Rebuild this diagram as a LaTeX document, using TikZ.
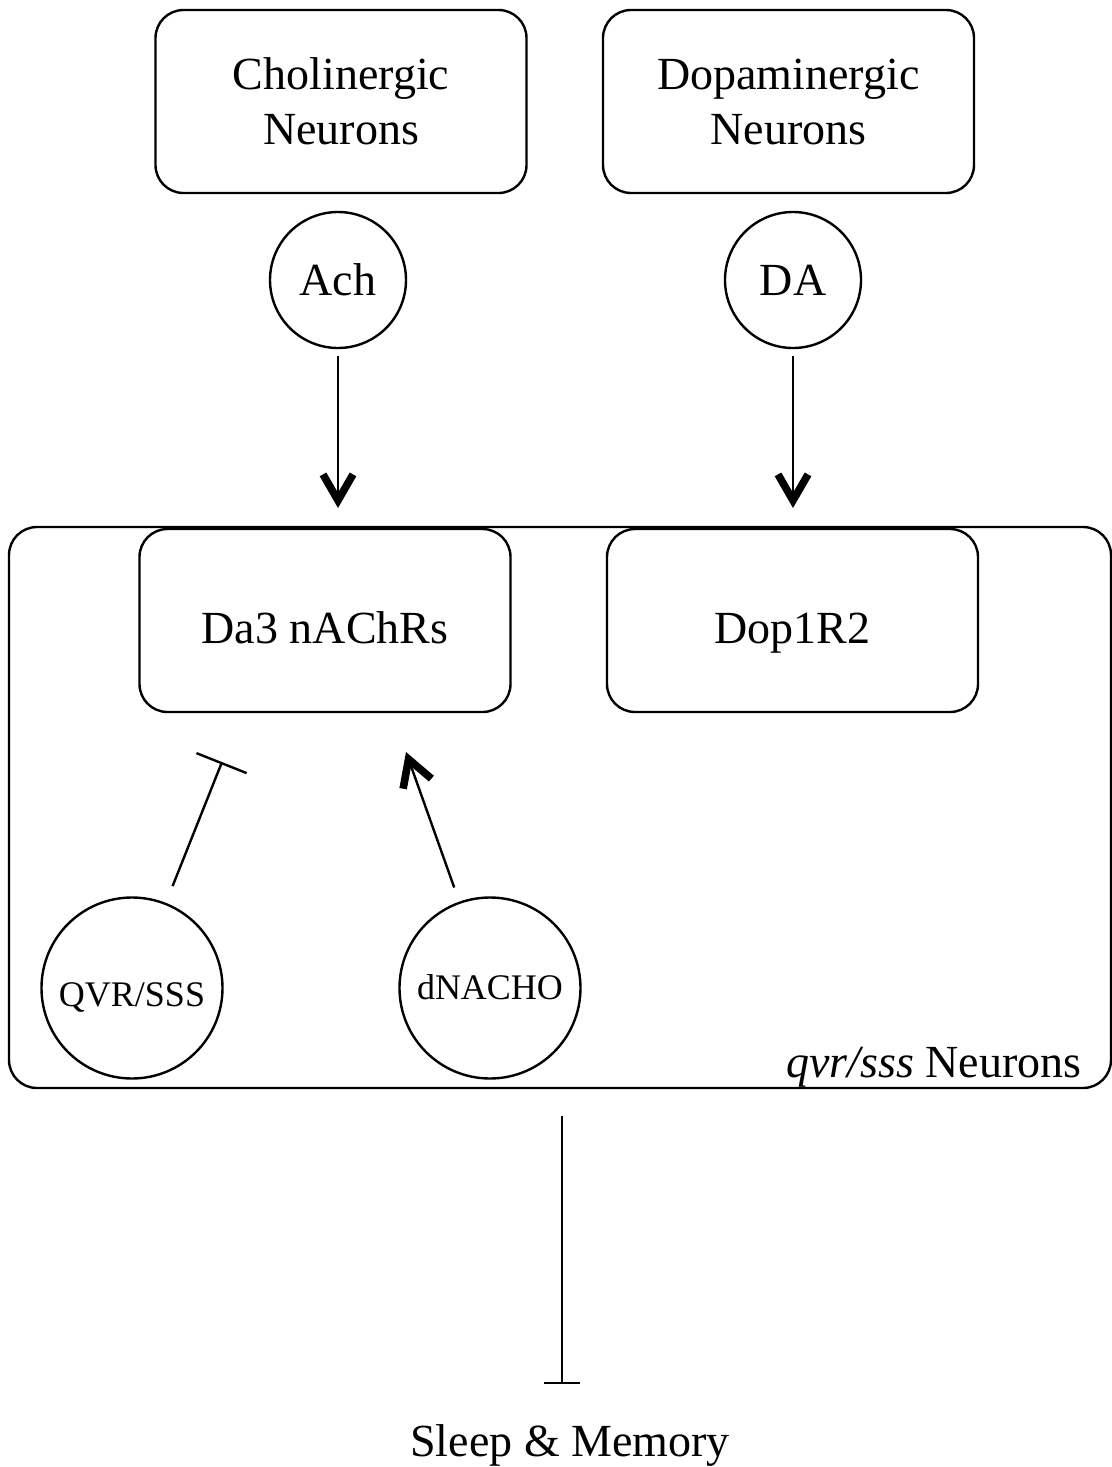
\documentclass[tikz,border=0pt]{standalone}
\usepackage{fontspec}
\setmainfont{Liberation Serif}
\usepackage{tikz}
\usetikzlibrary{arrows.meta}
\tikzstyle{cell_box} = [rectangle, draw=black, line width=1.2pt, rounded corners=14pt, align=center, inner sep=0pt, minimum width=185.5pt, minimum height=91.5pt, font=\fontsize{23}{27.5}\selectfont]
\tikzstyle{rec_box} = [cell_box, text height=22.5pt, text depth=0pt]
\tikzstyle{lig_n} = [circle, draw=black, line width=1.2pt, inner sep=0pt, minimum size=68pt, font=\fontsize{23}{27.5}\selectfont]
\tikzstyle{reg_n} = [circle, draw=black, line width=1.2pt, inner sep=0pt, minimum size=90.5pt, text depth=0pt, font=\fontsize{18}{21}\selectfont]
\tikzstyle{txt_n} = [inner sep=0pt, font=\fontsize{23}{27.5}\selectfont]
\tikzstyle{act_e} = [line width=1.2pt, -{Straight Barb[length=13pt, width=15pt, line width=3.8pt]}]
\tikzstyle{inh_e} = [line width=1.2pt, -{Bar[width=27pt]}]

\begin{document}
\begin{tikzpicture}[x=0.5pt, y=-0.5pt]
\useasboundingbox (0,0) rectangle (1112,1467);
% qvr/sss neurons
\node [cell_box, minimum width=551pt, minimum height=280.5pt] (qvr_cell) at (560,807.5) {};
\node [txt_n, anchor=base east] (qvr_lbl) at (1082,1077) {\textit{qvr/sss} Neurons};
% upstream neurons
\node [cell_box] (chol) at (341,101.5) {Cholinergic\\Neurons};
\node [cell_box] (dopa) at (788.5,101.5) {Dopaminergic\\Neurons};
\node [lig_n] (ach) at (338,280) {Ach};
\node [lig_n] (da) at (793,280) {DA};
% receptors
\node [rec_box] (da3) at (325,620.5) {Da3 nAChRs};
\node [rec_box] (dop1r2) at (792.5,620.5) {Dop1R2};
\node [reg_n, text height=18pt] (qvr) at (132,988) {QVR/SSS};
\node [reg_n, text height=11pt] (dnacho) at (490,988) {dNACHO};
\node [txt_n] (sleep) at (570,1445) {Sleep \& Memory};

\coordinate (ach_tip) at (338,508);
\coordinate (da_tip) at (793,508);
\coordinate (qvr_tip) at (222,762);
\coordinate (dnacho_tip) at (406,752);
\coordinate (sleep_tip) at (562,1384);

\draw [act_e, shorten <=3.5pt] (ach) -- (ach_tip);
\draw [act_e, shorten <=3.5pt] (da) -- (da_tip);
\draw [inh_e, shorten <=9pt] (qvr) -- (qvr_tip);
\draw [act_e, shorten <=7.5pt] (dnacho) -- (dnacho_tip);
\draw [inh_e, -{Bar[width=18pt]}, shorten <=13.5pt] (qvr_cell.south -| sleep_tip) -- (sleep_tip);
\end{tikzpicture}
\end{document}
